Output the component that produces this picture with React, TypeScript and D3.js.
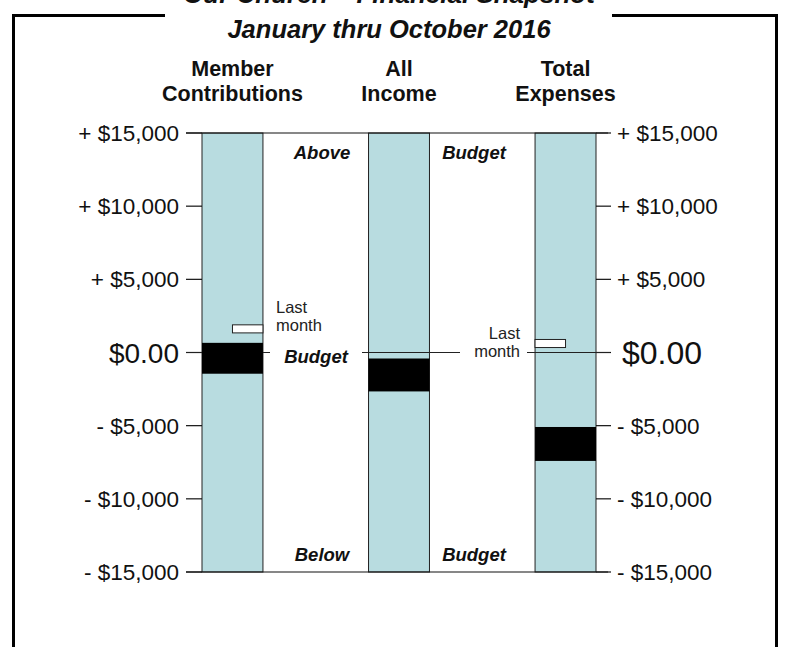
import React from "react";
import * as d3 from "d3";

const W = 790;
const H = 647;

const categories = ["Member Contributions", "All Income", "Total Expenses"];
const headerLine1 = ["Member", "All", "Total"];
const headerLine2 = ["Contributions", "Income", "Expenses"];
// year-to-date variance range vs budget (black band)
const ytdHigh = [660, -410, -5090];
const ytdLow = [-1450, -2660, -7410];
// last month marker
const lastMonthHigh: (number | null)[] = [1890, null, 890];
const lastMonthLow: (number | null)[] = [1340, null, 340];
const tickValues = [15000, 10000, 5000, 0, -5000, -10000, -15000];
const subtitle = "January thru October 2016";
const titleText = "Our Church \u2013 Financial Snapshot";

const FONT = "'Liberation Sans', Arial, sans-serif";

function fmt(v: number): string {
  if (v === 0) return "$0.00";
  const s = d3.format(",")(Math.abs(v));
  return (v > 0 ? "+ $" : "- $") + s;
}

export default function App() {
  const y = d3.scaleLinear().domain([-15000, 15000]).range([572, 133]);
  const x = d3
    .scaleBand<string>()
    .domain(categories)
    .range([202, 596])
    .paddingInner(0.634)
    .paddingOuter(0);
  const bw = x.bandwidth();
  const y0 = y(0);

  const zeroSegments: [number, number][] = [
    [186, 270],
    [362, 460],
    [527, 610],
  ];

  return (
    <svg
      width={W}
      height={H}
      style={{ position: "absolute", left: 0, top: 0, display: "block", background: "#fff" }}
      fontFamily={FONT}
    >
      <rect x={0} y={0} width={W} height={H} fill="#fff" />
      {/* main title, cut off at the top edge as in the source */}
      <text x={389} y={3} textAnchor="middle" fontSize={26} fontWeight="bold" fontStyle="italic" fill="#111">
        {titleText}
      </text>
      {/* frame */}
      <path d={`M165,15.5 H13.5 V${H + 5}`} fill="none" stroke="#000" strokeWidth={3} />
      <path d={`M612,15.5 H776.5 V${H + 5}`} fill="none" stroke="#000" strokeWidth={3} />
      <text x={389} y={38} textAnchor="middle" fontSize={25.5} fontWeight="bold" fontStyle="italic" fill="#111">
        {subtitle}
      </text>

      {/* headers */}
      {categories.map((c, i) => (
        <g key={c}>
          <text x={x(c)! + bw / 2} y={76} textAnchor="middle" fontSize={21.5} fontWeight="bold" fill="#111">
            {headerLine1[i]}
          </text>
          <text x={x(c)! + bw / 2} y={101} textAnchor="middle" fontSize={21.5} fontWeight="bold" fill="#111">
            {headerLine2[i]}
          </text>
        </g>
      ))}

      {/* columns */}
      {categories.map((c) => (
        <rect key={c} x={x(c)!} y={y(15000)} width={bw} height={y(-15000) - y(15000)} fill="#b8dce0" stroke="#222" strokeWidth={1} />
      ))}

      {/* top & bottom lines */}
      <line x1={186} x2={608} y1={y(15000)} y2={y(15000)} stroke="#111" strokeWidth={1.2} />
      <line x1={186} x2={608} y1={y(-15000)} y2={y(-15000)} stroke="#111" strokeWidth={1.2} />

      {/* ticks */}
      {tickValues.map((t) => (
        <g key={t}>
          <line x1={186} x2={202} y1={y(t)} y2={y(t)} stroke="#111" strokeWidth={1.2} />
          <line x1={596} x2={611} y1={y(t)} y2={y(t)} stroke="#111" strokeWidth={1.2} />
          <text x={179} y={y(t)} dy="0.36em" textAnchor="end" fontSize={t === 0 ? 28 : 22.5} fill="#111">
            {fmt(t)}
          </text>
          <text x={t === 0 ? 622 : 617} y={y(t)} dy="0.36em" textAnchor="start" fontSize={t === 0 ? 32 : 22.5} fill="#111">
            {fmt(t)}
          </text>
        </g>
      ))}

      {/* zero budget line */}
      {zeroSegments.map(([a, b], i) => (
        <line key={i} x1={a} x2={b} y1={y0} y2={y0} stroke="#222" strokeWidth={1.2} />
      ))}

      {/* ytd bands */}
      {categories.map((c, i) => (
        <rect key={c} x={x(c)!} y={y(ytdHigh[i])} width={bw} height={y(ytdLow[i]) - y(ytdHigh[i])} fill="#000" />
      ))}

      {/* last month markers */}
      {categories.map((c, i) => {
        const hi = lastMonthHigh[i];
        const lo = lastMonthLow[i];
        if (hi == null || lo == null) return null;
        const left = i === 0 ? x(c)! + bw / 2 : x(c)!;
        return (
          <rect key={c} x={left} y={y(hi)} width={bw / 2} height={y(lo) - y(hi)} fill="#fff" stroke="#222" strokeWidth={1} />
        );
      })}

      {/* last month labels */}
      <g fontSize={16.5} fill="#222">
        <text x={276} y={313}>Last</text>
        <text x={276} y={331}>month</text>
        <text x={520} y={339} textAnchor="end">Last</text>
        <text x={520} y={357} textAnchor="end">month</text>
      </g>

      {/* above/below labels */}
      <g fontSize={18.5} fontWeight="bold" fontStyle="italic" fill="#111" textAnchor="middle">
        <text x={322} y={159}>Above</text>
        <text x={474} y={159}>Budget</text>
        <text x={316} y={363}>Budget</text>
        <text x={322} y={561}>Below</text>
        <text x={474} y={561}>Budget</text>
      </g>
    </svg>
  );
}
